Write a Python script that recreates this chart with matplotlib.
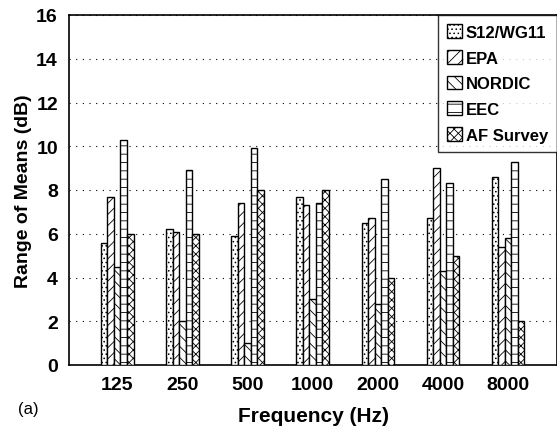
import numpy as np
import matplotlib.pyplot as plt

plt.rcParams['font.family'] = ['Liberation Sans', 'DejaVu Sans']
plt.rcParams['hatch.linewidth'] = 0.6

freqs = ["125", "250", "500", "1000", "2000", "4000", "8000"]
series = ["S12/WG11", "EPA", "NORDIC", "EEC", "AF Survey"]
s12 = [5.6, 6.2, 5.9, 7.7, 6.5, 6.7, 8.6]
epa = [7.7, 6.1, 7.4, 7.3, 6.7, 9.0, 5.4]
nordic = [4.5, 2.0, 1.0, 3.0, 2.8, 4.3, 5.8]
eec = [10.3, 8.9, 9.9, 7.4, 8.5, 8.3, 9.3]
af = [6.0, 6.0, 8.0, 8.0, 4.0, 5.0, 2.0]
hatches = ["....", "///", "\\\\\\", "--", "xxxx"]

fig = plt.figure(figsize=(5.57, 4.35), dpi=100)
ax = fig.add_axes([69 / 557, 69 / 435, 488 / 557, 350 / 435])

x = np.arange(len(freqs))
w = 0.1
for i, (name, vals) in enumerate(zip(series, [s12, epa, nordic, eec, af])):
    ax.bar(x + (i - 2) * w, vals, w, color="white", edgecolor="black",
           linewidth=1.0, hatch=hatches[i], label=name, zorder=3)

ax.set_xlim(-0.74, 6.75)
ax.set_ylim(0, 16)
ax.set_yticks(range(0, 17, 2))
ax.set_xticks(x)
ax.set_xticklabels(freqs)
ax.tick_params(length=0, labelsize=14, pad=8)
for lab in ax.get_xticklabels() + ax.get_yticklabels():
    lab.set_fontweight("bold")
ax.yaxis.grid(True, linestyle=(0, (1, 5)), color="black", linewidth=0.8)
ax.set_axisbelow(True)
for sp in ax.spines.values():
    sp.set_linewidth(1.2)

ax.set_xlabel("Frequency (Hz)", fontsize=15, fontweight="bold", labelpad=9)
ax.set_ylabel("Range of Means (dB)", fontsize=14, fontweight="bold", labelpad=3)

leg = ax.legend(loc="upper right", prop={"weight": "bold", "size": 12},
                frameon=True, fancybox=False, edgecolor="black",
                handlelength=0.9, handleheight=0.9, handletextpad=0.2,
                borderaxespad=0.0, labelspacing=0.6, borderpad=0.55)
leg.get_frame().set_linewidth(1.0)

fig.text(18 / 557, 1 - 410 / 435, "(a)", fontsize=12, va="center")

fig.savefig("out.png", dpi=100)
